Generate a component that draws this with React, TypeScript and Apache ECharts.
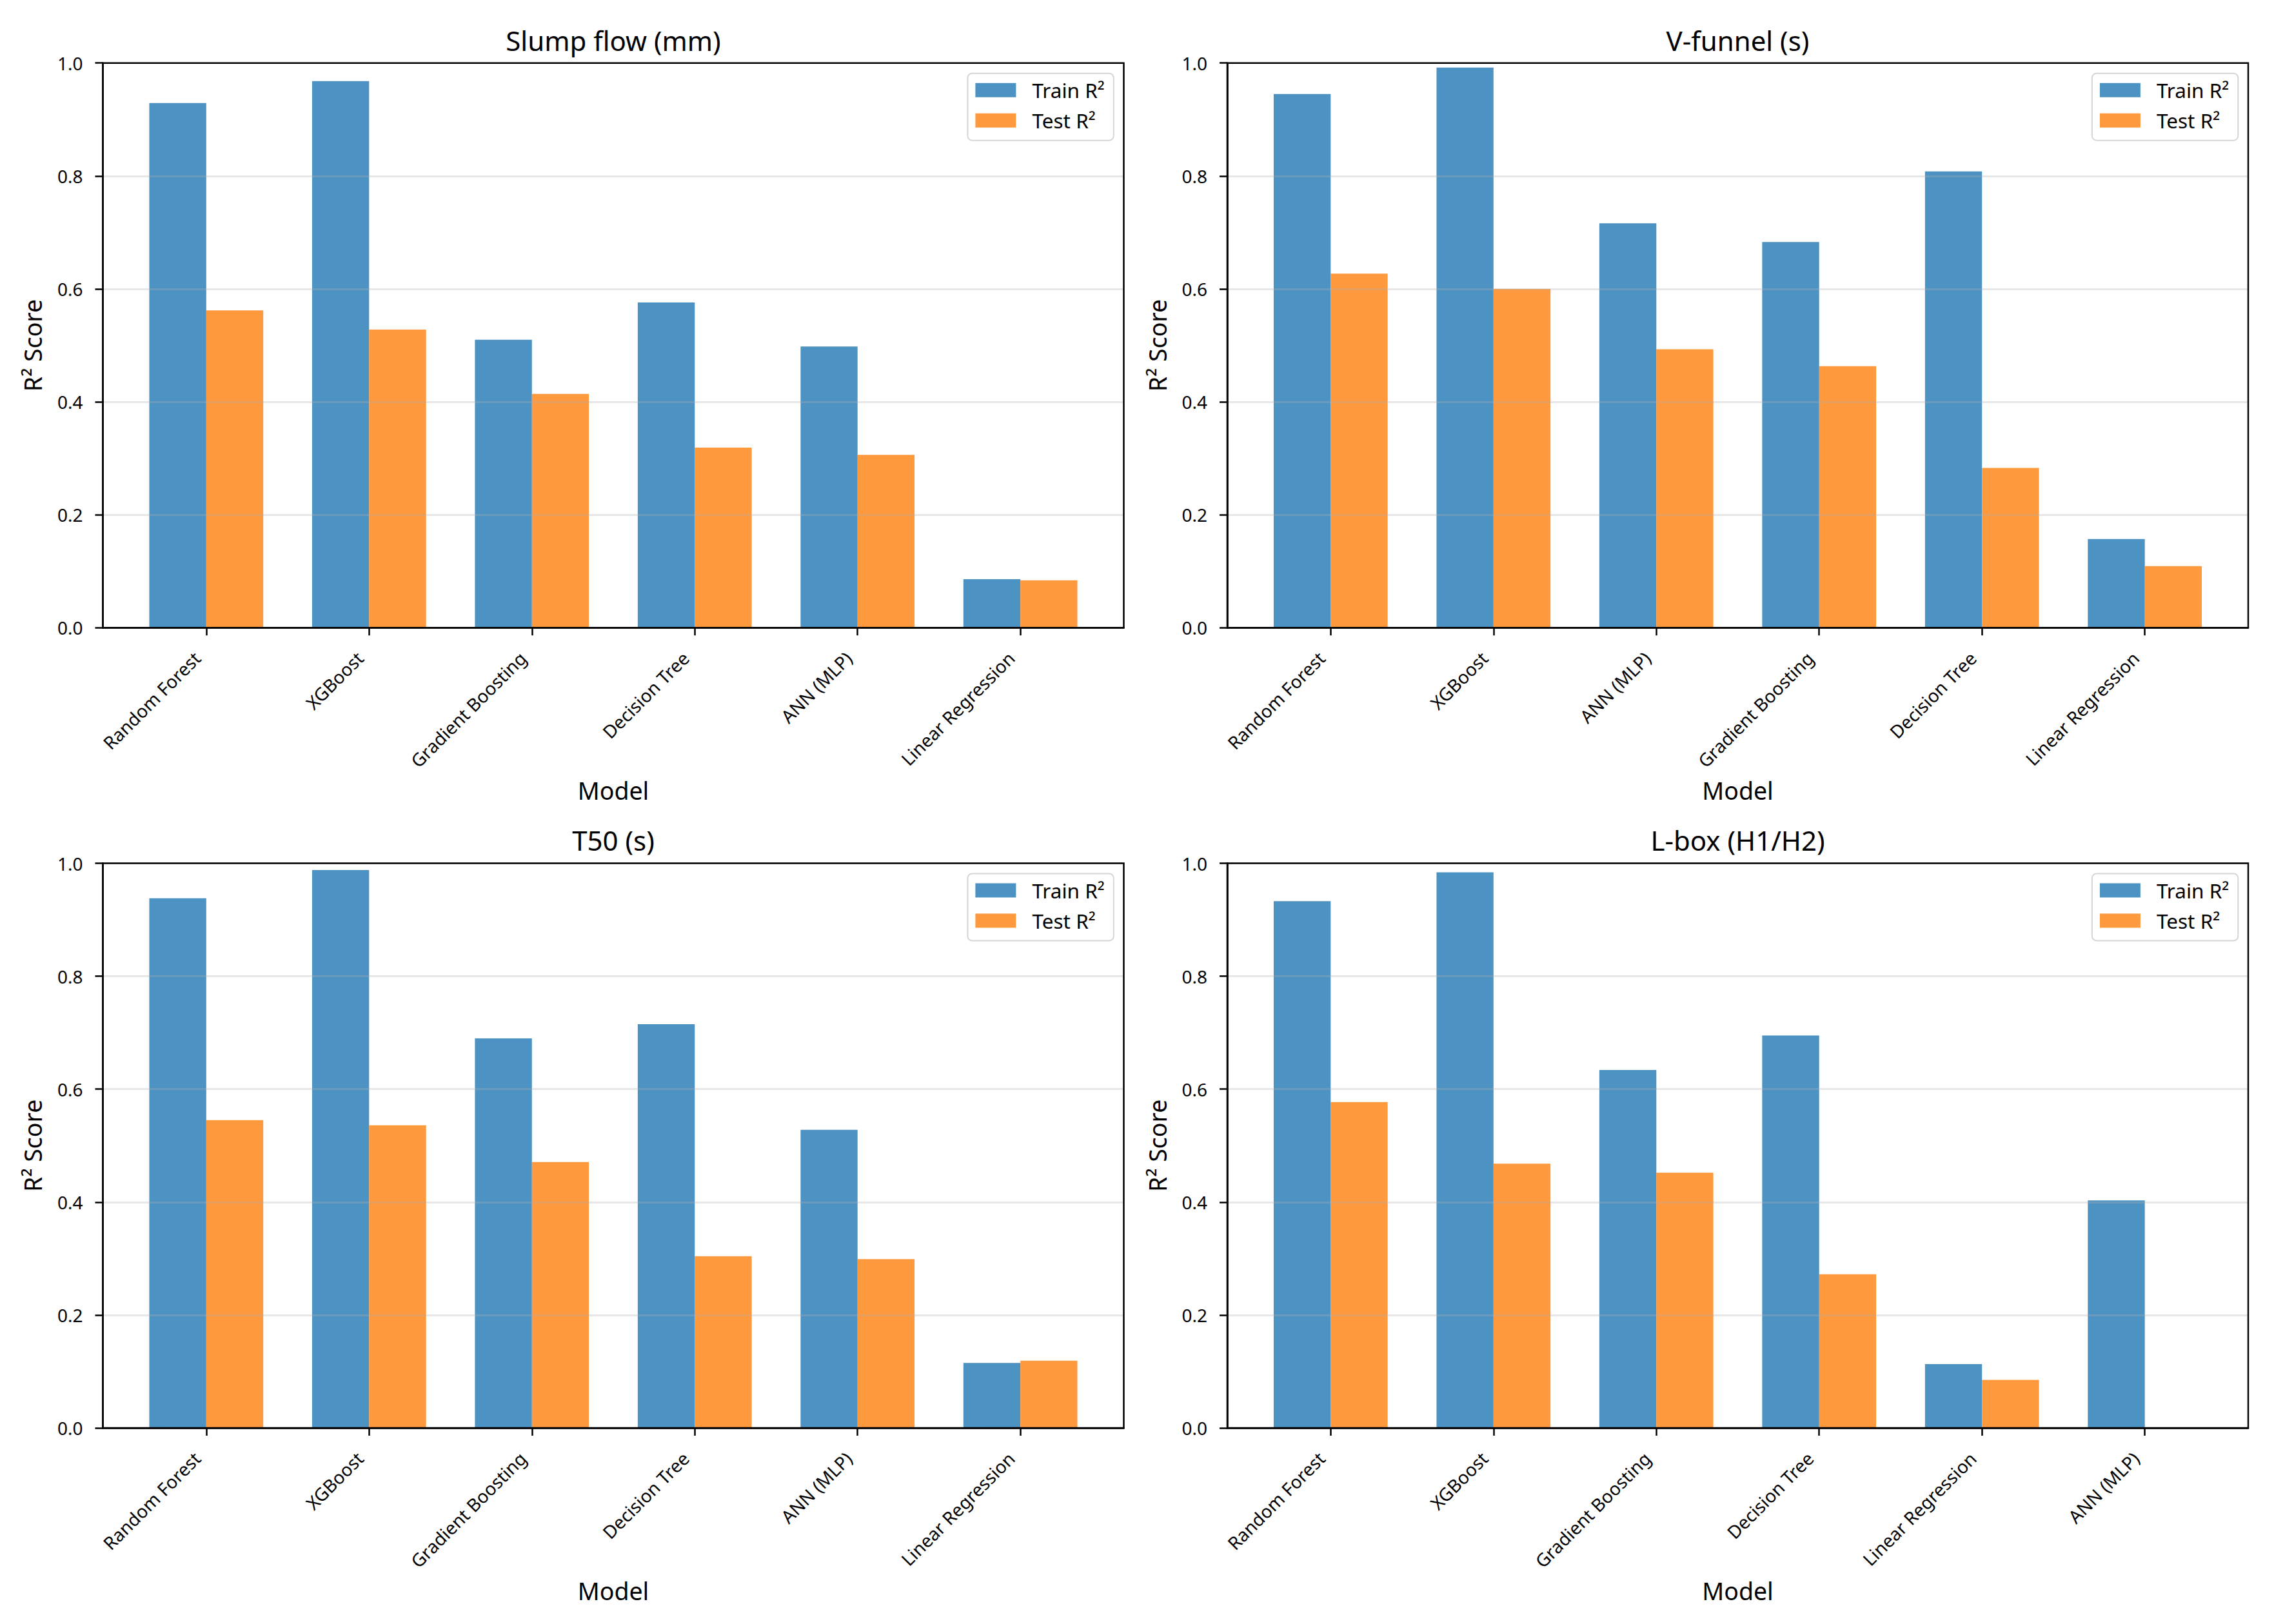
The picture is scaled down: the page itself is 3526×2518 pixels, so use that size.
import React, { useEffect, useRef } from 'react';
import * as echarts from 'echarts';

// ---------------- Data ----------------
const slumpModels = ['Random Forest', 'XGBoost', 'Gradient Boosting', 'Decision Tree', 'ANN (MLP)', 'Linear Regression'];
const slumpTrain = [0.929, 0.968, 0.510, 0.576, 0.498, 0.086];
const slumpTest = [0.562, 0.528, 0.414, 0.319, 0.306, 0.084];

const vfunnelModels = ['Random Forest', 'XGBoost', 'ANN (MLP)', 'Gradient Boosting', 'Decision Tree', 'Linear Regression'];
const vfunnelTrain = [0.945, 0.992, 0.716, 0.683, 0.808, 0.157];
const vfunnelTest = [0.627, 0.600, 0.493, 0.463, 0.283, 0.109];

const t50Models = ['Random Forest', 'XGBoost', 'Gradient Boosting', 'Decision Tree', 'ANN (MLP)', 'Linear Regression'];
const t50Train = [0.938, 0.988, 0.690, 0.715, 0.528, 0.115];
const t50Test = [0.545, 0.536, 0.471, 0.304, 0.299, 0.119];

const lboxModels = ['Random Forest', 'XGBoost', 'Gradient Boosting', 'Decision Tree', 'Linear Regression', 'ANN (MLP)'];
const lboxTrain = [0.933, 0.984, 0.634, 0.695, 0.113, 0.403];
// ANN (MLP) test bar is not visible (below the 0 axis) -> no bar drawn
const lboxTest = [0.577, 0.468, 0.452, 0.272, 0.085, null];

const panelTitles = ['Slump flow (mm)', 'V-funnel (s)', 'T50 (s)', 'L-box (H1/H2)'];
const seriesNames = ['Train R²', 'Test R²'];
const yTicks = [0, 0.2, 0.4, 0.6, 0.8, 1.0];
const xLabel = 'Model';
const yLabel = 'R² Score';

const panels = [
  { title: panelTitles[0], models: slumpModels, train: slumpTrain, test: slumpTest },
  { title: panelTitles[1], models: vfunnelModels, train: vfunnelTrain, test: vfunnelTest },
  { title: panelTitles[2], models: t50Models, train: t50Train, test: t50Test },
  { title: panelTitles[3], models: lboxModels, train: lboxTrain, test: lboxTest },
];

// ---------------- Layout & style ----------------
const W = 3526;
const H = 2518;
const FONT = 'Noto Sans';
const gridLefts = [159.5, 1903];
const gridTops = [97.7, 1338.5];
const gridW = 1583;
const gridH = 875.5;
const xMin = -0.635;
const xMax = 5.635;
const BAR_FRAC = 0.35;
const TRAIN_COLOR = 'rgba(31,119,180,0.8)';
const TEST_COLOR = 'rgba(255,127,14,0.8)';
const LINE_W = 2.5;
const TICK_FS = 28;

export default function App() {
  const ref = useRef<HTMLDivElement>(null);

  useEffect(() => {
    if (!ref.current) return;
    const chart = echarts.init(ref.current, null, { renderer: 'svg' });

    const grid: any[] = [];
    const xAxis: any[] = [];
    const yAxis: any[] = [];
    const series: any[] = [];
    const title: any[] = [];
    const legend: any[] = [];

    const barWidthPx = (BAR_FRAC * gridW) / (xMax - xMin);

    panels.forEach((p, i) => {
      const col = i % 2;
      const row = Math.floor(i / 2);
      const left = gridLefts[col];
      const top = gridTops[row];
      const idx = p.models.map((_, k) => k);

      grid.push({
        left,
        top,
        width: gridW,
        height: gridH,
        show: true,
        borderColor: '#000',
        borderWidth: LINE_W,
        backgroundColor: 'transparent',
        containLabel: false,
        outerBoundsMode: 'none',
        z: 4,
      });

      title.push({
        text: p.title,
        left: left + gridW / 2,
        top: top - 35.7 - 21,
        textAlign: 'center',
        padding: 0,
        textStyle: { fontFamily: FONT, fontSize: 42, fontWeight: 'normal', color: '#000' },
      });

      legend.push({
        orient: 'vertical',
        right: W - (left + gridW - 15.7),
        top: top + 16,
        data: seriesNames,
        icon: 'rect',
        itemWidth: 63,
        itemHeight: 22,
        itemGap: 15,
        align: 'left',
        selectedMode: false,
        padding: [10, 14, 15, 12],
        borderColor: '#d6d6d6',
        borderWidth: 2,
        borderRadius: 7,
        backgroundColor: 'rgba(255,255,255,0.8)',
        textStyle: { fontFamily: FONT, fontSize: 31.5, color: '#000', lineHeight: 32, padding: [0, 0, 0, 20] },
      });

      xAxis.push({
        type: 'value',
        gridIndex: i,
        min: xMin,
        max: xMax,
        name: xLabel,
        nameLocation: 'middle',
        nameGap: 233,
        nameTextStyle: { fontFamily: FONT, fontSize: 37.5, color: '#000' },
        axisLine: { show: true, onZero: false, lineStyle: { color: '#000', width: LINE_W } },
        axisTick: { show: true, customValues: idx, length: 12, lineStyle: { color: '#000', width: LINE_W } },
        axisLabel: {
          show: true,
          customValues: idx,
          formatter: (v: number) => p.models[Math.round(v)] ?? '',
          rotate: 45,
          margin: 28,
          padding: [0, 20, 0, 0],
          fontFamily: FONT,
          fontSize: TICK_FS,
          color: '#000',
          hideOverlap: false,
        },
        splitLine: { show: false },
        z: 3,
      });

      yAxis.push({
        type: 'value',
        gridIndex: i,
        min: yTicks[0],
        max: yTicks[yTicks.length - 1],
        interval: 0.2,
        name: yLabel,
        nameLocation: 'middle',
        nameGap: 90,
        nameTextStyle: { fontFamily: FONT, fontSize: 37.5, color: '#000' },
        axisLine: { show: true, onZero: false, lineStyle: { color: '#000', width: LINE_W } },
        axisTick: { show: true, length: 12, lineStyle: { color: '#000', width: LINE_W } },
        axisLabel: {
          formatter: (v: number) => v.toFixed(1),
          margin: 31,
          fontFamily: FONT,
          fontSize: TICK_FS,
          color: '#000',
        },
        splitLine: { show: true, lineStyle: { color: 'rgba(176,176,176,0.3)', width: 2.8 } },
        z: 3,
      });

      series.push({
        type: 'bar',
        name: seriesNames[0],
        xAxisIndex: i,
        yAxisIndex: i,
        data: p.models.map((_, k) => [k, p.train[k]]),
        barWidth: barWidthPx,
        barGap: '0%',
        itemStyle: { color: TRAIN_COLOR },
        z: 2,
      });
      series.push({
        type: 'bar',
        name: seriesNames[1],
        xAxisIndex: i,
        yAxisIndex: i,
        data: p.models.map((_, k) => [k, p.test[k]]),
        barWidth: barWidthPx,
        barGap: '0%',
        itemStyle: { color: TEST_COLOR },
        z: 2,
      });
    });

    chart.setOption({
      animation: false,
      backgroundColor: '#fff',
      textStyle: { fontFamily: FONT },
      title,
      legend,
      grid,
      xAxis,
      yAxis,
      series,
    });

    return () => {
      chart.dispose();
    };
  }, []);

  return (
    <div
      ref={ref}
      style={{ position: 'absolute', left: 0, top: 0, width: W, height: H, background: '#fff' }}
    />
  );
}
